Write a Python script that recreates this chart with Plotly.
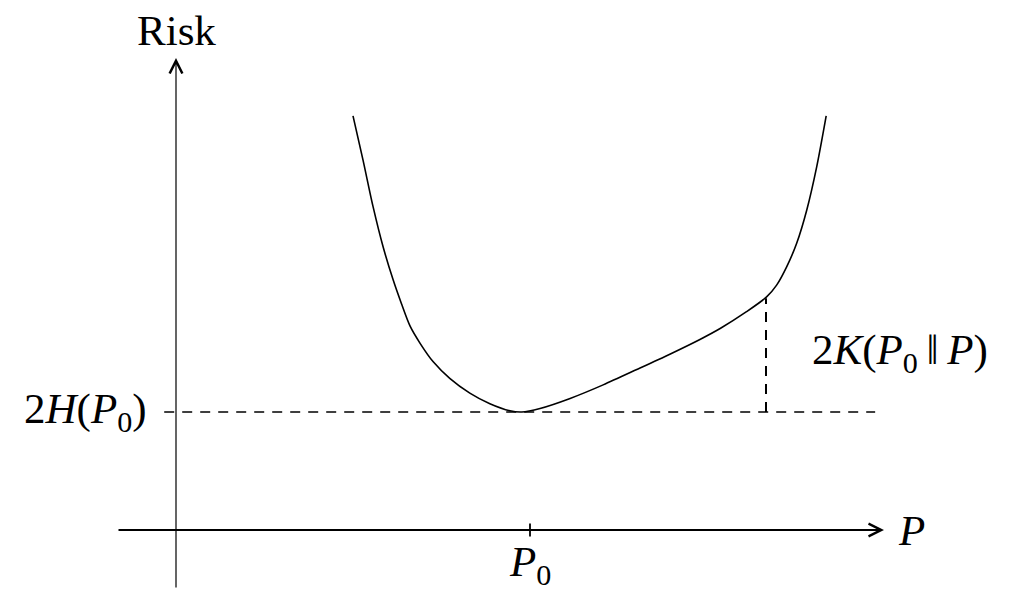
from typing import Dict, Optional
import plotly.graph_objects as go

# Risk curve (axis units)
curve_x = [3.0, 3.17, 3.34, 3.51, 3.68, 3.82, 3.97, 4.14, 4.36, 4.64, 4.98,
           5.32, 5.66, 5.86, 6.17, 6.68, 7.24, 7.81, 8.37, 8.88, 9.23, 9.67,
           10.01, 10.18, 10.35, 10.52, 10.69, 10.86, 11.02]
curve_y = [7.02, 6.27, 5.48, 4.80, 4.24, 3.84, 3.45, 3.16, 2.85, 2.57, 2.32,
           2.14, 2.02, 2.0, 2.06, 2.23, 2.46, 2.72, 2.98, 3.23, 3.42, 3.70,
           3.95, 4.15, 4.46, 4.86, 5.42, 6.16, 7.02]

# reference levels
entropy_level = 2.0      # 2H(P0)
p0_position = 6.0        # P0
kl_position = 10.0       # where 2K(P0||P) is measured
kl_top = 3.93

# axis extents
x_axis_span = [-1.0, 12.0]
y_axis_span = [-1.0, 8.0]
hline_span = [-0.2, 11.85]

FONT = "Liberation Serif"
PX_PER_UNIT = 59.0
WIDTH, HEIGHT = 1015, 599
ORIGIN_PX = (176, 530)


def arrow(x0: float, y0: float, x1: float, y1: float, width: float) -> Dict:
    """Annotation drawing an arrow from (x0, y0) to (x1, y1)."""
    return dict(x=x1, y=y1, ax=x0, ay=y0, xref="x", yref="y",
                axref="x", ayref="y", text="", showarrow=True,
                arrowhead=5, arrowsize=2.5 / width, arrowwidth=width,
                arrowcolor="black", standoff=0, startstandoff=0)


def label(text: str, x: float, y: float, xanchor: str = "center",
          yanchor: str = "middle", size: Optional[int] = 43) -> Dict:
    return dict(x=x, y=y, xref="x", yref="y", text=text, showarrow=False,
                xanchor=xanchor, yanchor=yanchor,
                font=dict(family=FONT, size=size, color="black"))


fig = go.Figure()

# the risk curve
fig.add_trace(go.Scatter(x=curve_x, y=curve_y, mode="lines",
                         line=dict(color="black", width=1.6, shape="spline",
                                   smoothing=0.8),
                         hoverinfo="skip"))

# dashed lines
fig.add_trace(go.Scatter(x=hline_span, y=[entropy_level] * 2, mode="lines",
                         line=dict(color="black", width=1.3, dash="10px,8px"),
                         hoverinfo="skip"))
fig.add_trace(go.Scatter(x=[kl_position] * 2, y=[entropy_level, kl_top],
                         mode="lines",
                         line=dict(color="black", width=2.0, dash="10px,8px"),
                         hoverinfo="skip"))

# tick at P0
fig.add_trace(go.Scatter(x=[p0_position] * 2, y=[-0.11, 0.11], mode="lines",
                         line=dict(color="black", width=1.8),
                         hoverinfo="skip"))

# x range so that the origin falls on ORIGIN_PX
x_range = [-ORIGIN_PX[0] / PX_PER_UNIT, (WIDTH - ORIGIN_PX[0]) / PX_PER_UNIT]
y_range = [-(HEIGHT - ORIGIN_PX[1]) / PX_PER_UNIT, ORIGIN_PX[1] / PX_PER_UNIT]

annotations = [
    arrow(x_axis_span[0], 0, x_axis_span[1], 0, 2.0),
    arrow(0, y_axis_span[0], 0, y_axis_span[1], 1.2),
    label("Risk", 0, 8.47),
    label("<i>P</i>", 12.2, 0.0, xanchor="left"),
    label("<i>P</i><sub>0</sub>", p0_position, -0.6),
    label("2<i>H</i>(<i>P</i><sub>0</sub>)", -0.45, entropy_level,
          xanchor="right"),
    label("2<i>K</i>(<i>P</i><sub>0</sub>\u2009‖\u2009<i>P</i>)", 10.75, 3.0,
          xanchor="left"),
]

fig.update_layout(width=WIDTH, height=HEIGHT,
                  margin=dict(l=0, r=0, t=0, b=0),
                  paper_bgcolor="white", plot_bgcolor="white",
                  showlegend=False,
                  xaxis=dict(range=x_range, visible=False, fixedrange=True),
                  yaxis=dict(range=y_range, visible=False, fixedrange=True),
                  annotations=annotations)

# drop the browser's default body margin so the figure sits at (0, 0)
fig.write_html("out.html",
               config={"displayModeBar": False},
               post_script="document.body.style.margin = '0';"
                           "document.body.style.overflow = 'hidden';")
